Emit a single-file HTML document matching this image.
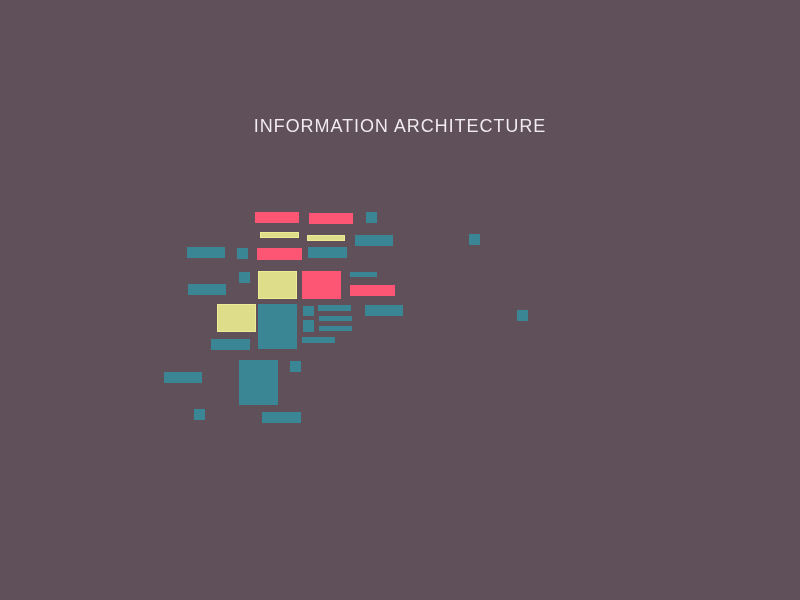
<!DOCTYPE html>
<html><head><meta charset="utf-8"><style>
html,body{margin:0;padding:0}
body{width:800px;height:600px;background:#5f505a;position:relative;overflow:hidden}
.t{position:absolute;left:200px;top:116px;width:400px;text-align:center;color:#f2ecef;font:18px "Liberation Sans",sans-serif;letter-spacing:0.95px;white-space:nowrap}
.r{position:absolute}
.c{background:#3a8694}
.p{background:#fd5574}
.y{background:#dedd8a;box-shadow:inset 0 0 0 1px #eeea95}
</style></head><body>
<div class="t">INFORMATION ARCHITECTURE</div>
<div class="r p" style="left:255px;top:212px;width:44px;height:11px"></div>
<div class="r p" style="left:309px;top:213px;width:44px;height:11px"></div>
<div class="r c" style="left:366px;top:212px;width:11px;height:11px"></div>
<div class="r y" style="left:260px;top:232px;width:39px;height:6px"></div>
<div class="r y" style="left:307px;top:235px;width:38px;height:6px"></div>
<div class="r c" style="left:355px;top:235px;width:38px;height:11px"></div>
<div class="r c" style="left:187px;top:247px;width:38px;height:11px"></div>
<div class="r c" style="left:237px;top:248px;width:11px;height:11px"></div>
<div class="r p" style="left:257px;top:248px;width:45px;height:12px"></div>
<div class="r c" style="left:308px;top:247px;width:39px;height:11px"></div>
<div class="r c" style="left:239px;top:272px;width:11px;height:11px"></div>
<div class="r y" style="left:258px;top:271px;width:39px;height:28px"></div>
<div class="r p" style="left:302px;top:271px;width:39px;height:28px"></div>
<div class="r c" style="left:350px;top:272px;width:27px;height:5px"></div>
<div class="r c" style="left:188px;top:284px;width:38px;height:11px"></div>
<div class="r p" style="left:350px;top:285px;width:45px;height:11px"></div>
<div class="r y" style="left:217px;top:304px;width:39px;height:28px"></div>
<div class="r c" style="left:258px;top:304px;width:39px;height:45px"></div>
<div class="r c" style="left:303px;top:306px;width:11px;height:10px"></div>
<div class="r c" style="left:318px;top:305px;width:33px;height:6px"></div>
<div class="r c" style="left:365px;top:305px;width:38px;height:11px"></div>
<div class="r c" style="left:319px;top:316px;width:33px;height:5px"></div>
<div class="r c" style="left:303px;top:320px;width:11px;height:12px"></div>
<div class="r c" style="left:319px;top:326px;width:33px;height:5px"></div>
<div class="r c" style="left:302px;top:337px;width:33px;height:6px"></div>
<div class="r c" style="left:211px;top:339px;width:39px;height:11px"></div>
<div class="r c" style="left:239px;top:360px;width:39px;height:45px"></div>
<div class="r c" style="left:290px;top:361px;width:11px;height:11px"></div>
<div class="r c" style="left:164px;top:372px;width:38px;height:11px"></div>
<div class="r c" style="left:194px;top:409px;width:11px;height:11px"></div>
<div class="r c" style="left:262px;top:412px;width:39px;height:11px"></div>
<div class="r c" style="left:469px;top:234px;width:11px;height:11px"></div>
<div class="r c" style="left:517px;top:310px;width:11px;height:11px"></div>
</body></html>
